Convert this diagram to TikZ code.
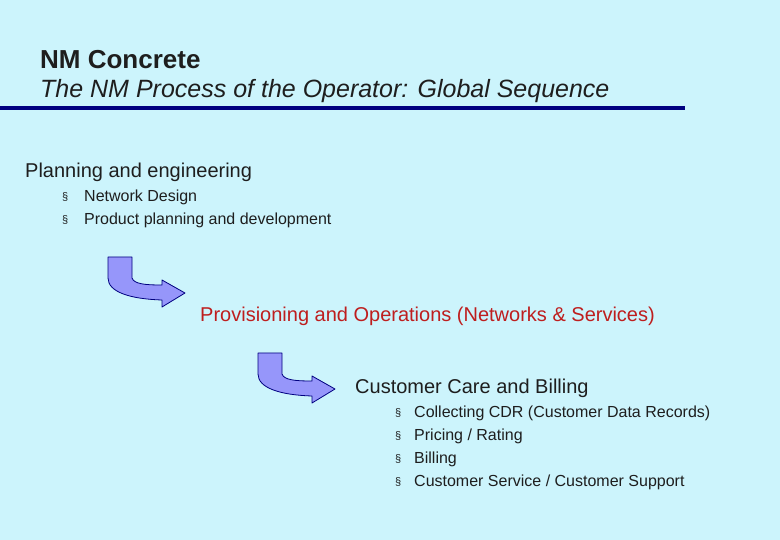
\documentclass[tikz,border=0pt]{standalone}
\usepackage{fontspec}
\setmainfont{Liberation Sans}
\definecolor{bg}{RGB}{204,244,252}
\definecolor{navy}{RGB}{0,0,128}
\definecolor{arr}{RGB}{150,150,250}
\definecolor{red1}{RGB}{190,30,30}
\definecolor{txt}{RGB}{30,30,30}
\begin{document}
\begin{tikzpicture}[x=1pt,y=-1pt,
  lbl/.style={anchor=west,inner sep=0pt,text=txt},
  big/.style={lbl,font=\fontsize{20}{24}\selectfont},
  sm/.style={lbl,font=\fontsize{16}{19}\selectfont},
  bul/.style={lbl,font=\fontsize{11}{13}\selectfont},
  bendarrow/.style={fill=arr,draw=navy,line width=0.8pt,line join=round}]
\fill[bg] (0,0) rectangle (780,540);
\node[lbl,font=\fontsize{26}{30}\selectfont\bfseries] (t1) at (40,60) {NM Concrete};
\node[lbl,font=\fontsize{25}{28}\selectfont\itshape] (t2) at (40,91) {The NM Process of the Operator: Global Sequence};
\fill[navy] (0,106) rectangle (685,110);
\node[big] (p) at (25,172) {Planning and engineering};
\foreach \y/\t in {197/{Network Design},220/{Product planning and development}}
  {\node[bul] at (62,\y) {§}; \node[sm] at (84,\y) {\t};}
\foreach \dx/\dy in {0/0,150/96}{
\begin{scope}[shift={(\dx,\dy)}]
\draw[bendarrow] (108,257) -- (132,257) -- (132,278) .. controls (134,284) and (145,285) .. (162,285) -- (162,280) -- (185,293) -- (162,307) -- (162,300) .. controls (130,299) and (108,292) .. (108,278) -- cycle;
\end{scope}}
\node[big,text=red1] (pr) at (200,316) {Provisioning and Operations (Networks \& Services)};
\node[big] (cc) at (355,388) {Customer Care and Billing};
\foreach \y/\t in {413/{Collecting CDR (Customer Data Records)},436/{Pricing / Rating},459/{Billing},482/{Customer Service / Customer Support}}
  {\node[bul] at (395,\y) {§}; \node[sm] at (414,\y) {\t};}
\end{tikzpicture}
\end{document}
